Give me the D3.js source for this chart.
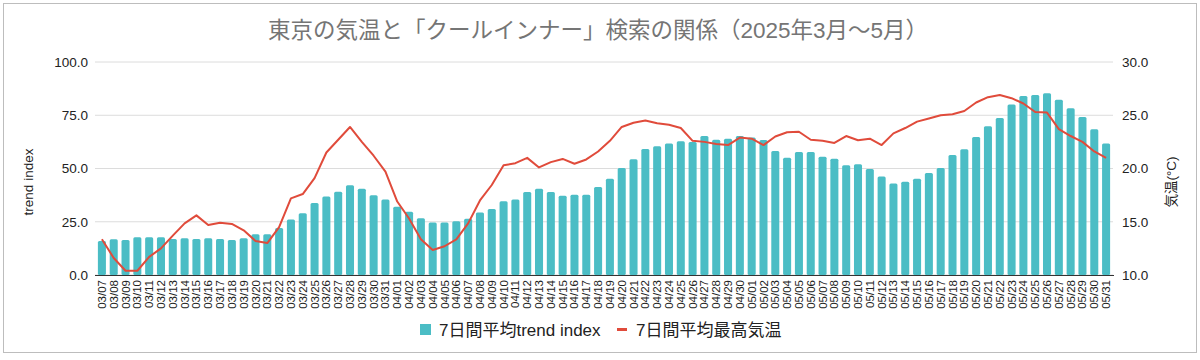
<!DOCTYPE html>
<html><head><meta charset="utf-8">
<script src="https://cdn.jsdelivr.net/npm/d3@7"></script>
<style>body{margin:0;background:#fff}svg{display:block}text{font-family:Arial,"Liberation Sans","Noto Sans CJK JP",sans-serif}</style>
</head><body><svg id="c" width="1200" height="360"></svg>
<script>
const dates = ["03/07","03/08","03/09","03/10","03/11","03/12","03/13","03/14","03/15","03/16","03/17","03/18","03/19","03/20","03/21","03/22","03/23","03/24","03/25","03/26","03/27","03/28","03/29","03/30","03/31",
"04/01","04/02","04/03","04/04","04/05","04/06","04/07","04/08","04/09","04/10","04/11","04/12","04/13","04/14","04/15","04/16","04/17","04/18","04/19","04/20","04/21","04/22","04/23","04/24","04/25","04/26","04/27","04/28","04/29","04/30",
"05/01","05/02","05/03","05/04","05/05","05/06","05/07","05/08","05/09","05/10","05/11","05/12","05/13","05/14","05/15","05/16","05/17","05/18","05/19","05/20","05/21","05/22","05/23","05/24","05/25","05/26","05/27","05/28","05/29","05/30","05/31"];
const trendIndex = [16.0,16.8,16.4,17.7,17.7,17.7,16.9,17.2,16.9,17.2,16.9,16.4,17.2,19.1,19.1,22.1,26.1,29.0,33.8,36.9,39.1,42.1,40.5,37.4,35.5,
32.1,29.7,26.6,24.7,24.7,25.2,26.4,29.3,31.0,34.6,35.4,39.0,40.5,39.0,37.2,37.7,37.7,41.3,45.2,50.2,54.3,59.2,60.4,61.7,62.8,62.4,65.3,63.5,64.0,65.3,
64.5,63.4,58.2,55.1,57.7,57.7,55.5,54.6,51.5,52.0,49.8,46.2,43.0,43.8,45.2,47.9,50.2,56.3,59.0,64.8,69.8,73.7,80.1,84.0,84.5,85.3,82.3,78.3,74.2,68.4,61.7];
const maxTemp = [13.35,11.6,10.4,10.4,11.7,12.5,13.7,14.85,15.6,14.7,14.9,14.8,14.2,13.2,13.0,14.5,17.2,17.6,19.1,21.5,22.7,23.9,22.5,21.2,19.7,
16.9,15.3,13.35,12.35,12.7,13.35,14.85,17.0,18.45,20.3,20.5,21.0,20.1,20.6,20.9,20.45,20.85,21.6,22.6,23.9,24.3,24.5,24.25,24.1,23.8,22.6,22.5,22.3,22.2,22.9,
22.8,22.2,23.0,23.4,23.45,22.7,22.6,22.4,23.05,22.65,22.8,22.2,23.3,23.8,24.4,24.7,25.0,25.1,25.4,26.2,26.7,26.9,26.6,26.1,25.3,25.25,23.7,23.05,22.5,21.6,21.0];
const leftTicks = [0,25,50,75,100];
const rightTicks = [10,15,20,25,30];
const title = "東京の気温と「クールインナー」検索の関係（2025年3月〜5月）";
const leftTitle = "trend index";
const rightTitle = "気温(°C)";
const legendLabels = ["7日間平均trend index","7日間平均最高気温"];

const svg = d3.select("#c");
const m = {l:95, r:1113, t:62, b:275};
const barColor = "#4bbdc5", lineColor = "#e04b3b";

svg.append("rect").attr("x",3.5).attr("y",3.5).attr("width",1193).attr("height",349)
  .attr("fill","none").attr("stroke","#bdbdbd");

const x = d3.scaleBand().domain(dates).range([96,1112]).paddingInner(0.32).paddingOuter(0.16);
const yL = d3.scaleLinear().domain([0,100]).range([m.b,m.t]);
const yR = d3.scaleLinear().domain([10,30]).range([m.b,m.t]);

// grid
svg.append("g").selectAll("line").data(leftTicks).join("line")
  .attr("x1",m.l).attr("x2",m.r).attr("y1",d=>yL(d)).attr("y2",d=>yL(d))
  .attr("stroke","#dcdcdc").attr("stroke-width",1);

const fmt = d3.format(".1f");
svg.append("g").call(d3.axisLeft(yL).tickValues(leftTicks).tickFormat(fmt).tickSize(0).tickPadding(7))
  .attr("transform",`translate(${m.l},0)`)
  .call(g=>g.select(".domain").remove())
  .call(g=>g.selectAll("text").attr("font-size",13.5).attr("fill","#222").attr("font-family","Arial,'Liberation Sans',sans-serif"));
svg.append("g").call(d3.axisRight(yR).tickValues(rightTicks).tickFormat(fmt).tickSize(0).tickPadding(9))
  .attr("transform",`translate(${m.r},0)`)
  .call(g=>g.select(".domain").remove())
  .call(g=>g.selectAll("text").attr("font-size",13.5).attr("fill","#222").attr("font-family","Arial,'Liberation Sans',sans-serif"));

// bars
svg.append("g").selectAll("rect").data(dates).join("rect")
  .attr("x",d=>x(d)).attr("width",x.bandwidth())
  .attr("y",(d,i)=>yL(trendIndex[i])).attr("height",(d,i)=>m.b-yL(trendIndex[i]))
  .attr("fill",barColor).attr("rx",1.5);

svg.append("line").attr("x1",m.l).attr("x2",m.r+1).attr("y1",m.b+0.5).attr("y2",m.b+0.5).attr("stroke","#333").attr("stroke-width",1);

const line = d3.line().x((d,i)=>x(dates[i])+x.bandwidth()/2).y(d=>yR(d));
svg.append("path").datum(maxTemp).attr("d",line).attr("fill","none")
  .attr("stroke",lineColor).attr("stroke-width",2).attr("stroke-linejoin","round");

const xa = svg.append("g").attr("transform",`translate(0,${m.b})`)
  .call(d3.axisBottom(x).tickSize(0).tickPadding(0));
xa.select(".domain").remove();
xa.selectAll("text").attr("font-size",11.5).attr("fill","#222")
  .attr("font-family","Arial,'Liberation Sans',sans-serif")
  .attr("text-anchor","end").attr("dy","0.35em")
  .attr("transform","translate(0,5) rotate(-90)").attr("x",0).attr("y",0);

svg.append("text").attr("transform","translate(33,182) rotate(-90)").attr("text-anchor","middle")
  .attr("font-size",13.5).attr("fill","#222").text(leftTitle);
svg.append("text").attr("transform","translate(1176,182) rotate(-90)").attr("text-anchor","middle")
  .attr("font-size",13.5).attr("fill","#222").attr("font-family","'Noto Sans CJK JP',sans-serif").text(rightTitle);

svg.append("text").attr("x",598).attr("y",38).attr("text-anchor","middle")
  .attr("font-size",22.5).attr("fill","#757575").attr("font-family","'Noto Sans CJK JP',sans-serif").text(title);

const lg = svg.append("g").attr("font-size",17).attr("fill","#222");
lg.append("rect").attr("x",420).attr("y",324).attr("width",11).attr("height",11).attr("fill",barColor);
lg.append("text").attr("x",439).attr("y",336).attr("font-family","Arial,'Noto Sans CJK JP',sans-serif").text(legendLabels[0]);
lg.append("rect").attr("x",617).attr("y",328).attr("width",10).attr("height",3).attr("fill",lineColor);
lg.append("text").attr("x",636).attr("y",336).attr("font-family","Arial,'Noto Sans CJK JP',sans-serif").text(legendLabels[1]);
</script></body></html>
